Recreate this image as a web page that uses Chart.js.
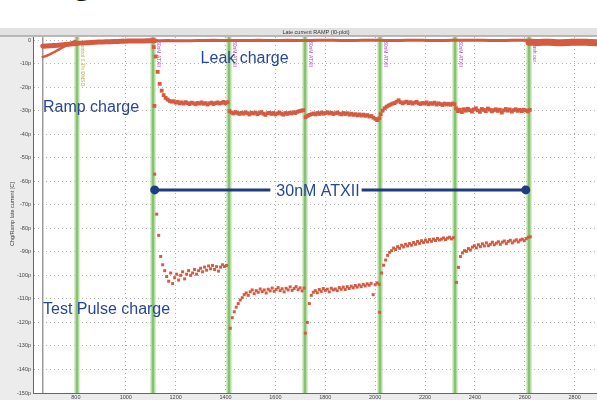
<!DOCTYPE html>
<html>
<head>
<meta charset="utf-8">
<script src="https://cdn.jsdelivr.net/npm/chart.js@4"></script>
<style>
  html, body { margin: 0; padding: 0; background: #fff; overflow: hidden; width: 597px; height: 400px; }
  #wrap { position: absolute; left: 0; top: 28px; }
  #cut { position: absolute; left: 71px; top: -37px; font: bold 36px "Liberation Sans", Arial, sans-serif; line-height: 36px; color: #111; }
</style>
</head>
<body>
<div id="cut">g</div>
<div id="wrap"><canvas id="myChart" width="640" height="372"></canvas></div>
<script>
// sample spacing in seconds for every recorded segment
const STEP = 8;

// axis ticks
const xTicks = [800, 1000, 1200, 1400, 1600, 1800, 2000, 2200, 2400, 2600, 2800, 3000];
const yTicks = [0, -10, -20, -30, -40, -50, -60, -70, -80, -90, -100, -110, -120, -130, -140, -150];

// leak charge (thick trace near zero)
const leakEarlyStart = 667, leakEarlyStep = 30;
const leakEarly = [-2.6, -2.4, -2.2, -1.9, -1.6, -1.3, -1.1, -0.9, -0.8, -0.7, -0.6, -0.5, -0.4, -0.4, -0.3, -0.3];
const leakBranchStart = 667, leakBranchStep = 12;
const leakBranch = [-7.2, -6.8, -6.3, -5.7, -5.0, -4.3, -3.6, -2.9, -2.2, -1.5, -0.9, -0.4];
const leakMidStart = 1110, leakMidStep = 60;
const leakMid = [-0.3, -0.2, -0.3, -0.2, -0.1, -0.2, -0.2, -0.1, -0.2, -0.1, -0.2, -0.1, -0.1, -0.2, -0.1, -0.1, -0.2, -0.1, -0.1, -0.2, -0.1, -0.1, -0.1, -0.2, -0.1, -0.1];
const leakLateStart = 2617, leakLateStep = 40;
const leakLate = [-0.9, -1.0, -0.9, -1.1, -1.0, -0.9, -1.0, -1.1, -0.9, -1.0, -1.0, -0.9];

// ramp charge
const rampStarts = [1112, 1416, 1721, 2022, 2324];
const rampSeg1 = [-3.0, -7.0, -13.5, -18.6, -21.5, -23.4, -24.6, -25.3, -25.9, -26.2, -26.0, -26.6, -26.3, -26.9, -26.5, -27.0, -26.4, -26.8, -27.2, -26.6, -26.9, -27.3, -26.7, -27.0, -26.5, -27.1, -26.8, -27.4, -26.9, -26.6, -27.2, -26.8, -26.5, -27.0, -26.7, -26.3, -26.9, -26.4];
const rampSeg2 = [-30.2, -30.8, -31.2, -30.6, -31.0, -31.4, -30.9, -31.3, -30.7, -31.1, -31.6, -30.9, -31.2, -30.8, -31.5, -31.0, -30.6, -31.3, -31.8, -31.1, -30.9, -31.4, -31.0, -31.6, -31.2, -30.8, -31.3, -31.7, -31.0, -31.4, -30.9, -31.2, -30.7, -31.0, -30.5, -30.2, -30.0, -29.8];
const rampSeg3 = [-32.8, -32.2, -31.8, -31.5, -31.2, -31.6, -31.0, -31.4, -30.8, -31.3, -31.0, -30.7, -31.2, -30.9, -31.4, -31.1, -30.8, -31.3, -31.6, -31.0, -31.4, -31.1, -31.7, -31.3, -31.8, -31.5, -32.0, -31.6, -32.1, -31.7, -32.2, -31.9, -32.5, -32.3, -33.0, -33.5, -34.0, -33.2];
const rampSeg4 = [-31.5, -30.0, -29.0, -28.3, -27.8, -27.4, -27.0, -26.8, -26.2, -25.6, -26.4, -26.9, -26.5, -26.2, -26.8, -26.4, -27.0, -26.6, -26.3, -26.9, -27.2, -26.7, -27.0, -26.5, -27.3, -26.8, -27.1, -26.6, -27.4, -26.9, -27.2, -27.6, -27.0, -27.4, -27.1, -27.5, -27.0, -27.3];
const rampSeg5 = [-29.0, -30.2, -29.6, -30.6, -29.4, -30.0, -29.2, -29.8, -30.4, -29.5, -29.0, -29.9, -30.5, -29.3, -29.7, -30.2, -29.1, -29.6, -30.3, -29.8, -29.4, -30.1, -29.6, -30.8, -29.9, -29.3, -30.0, -29.5, -30.4, -29.8, -29.4, -30.1, -29.7, -30.2, -29.6, -29.9, -30.3, -29.7];
const rampOutlierX = [1115];
const rampOutlierY = [-28.0];

// test pulse charge
const testStarts = [1116, 1419, 1720, 2018, 2326];
const testSeg1 = [-57, -74, -83, -92, -95.5, -98, -100.5, -102.5, -99, -103.5, -101, -99.5, -102, -100, -98.5, -101.5, -99.5, -98, -100, -99, -97.5, -99.5, -98, -97, -98.5, -96.5, -97.8, -96, -97.2, -95.8, -97.5, -96.3, -98.2, -96.5, -95.5, -96.2, -95.8];
const testSeg2 = [-122.5, -118, -115.5, -113.5, -112, -110.5, -109.5, -108.2, -107.5, -108.5, -107, -106.2, -107.8, -106.5, -107.2, -105.8, -106.9, -106.2, -107.5, -105.9, -106.6, -105.4, -106.8, -106, -105.2, -106.5, -105.7, -107, -105.5, -106.2, -104.9, -106.4, -105.6, -104.8, -106.1, -105.3, -106.6, -105.4];
const testSeg3 = [-124.6, -120, -112, -108.5, -107.2, -106.5, -107.4, -106, -106.8, -105.6, -106.4, -105.9, -107, -105.5, -106.2, -105.8, -106.5, -105.2, -105.9, -105, -106, -104.8, -105.6, -104.6, -105.3, -104.3, -105, -104.1, -104.8, -103.8, -104.5, -103.6, -104.2, -103.4, -108.2, -104, -103.2, -103.8];
const testSeg4 = [-115.7, -99, -95.7, -93.5, -91.5, -90.2, -89.5, -88.4, -89, -87.8, -88.5, -87.2, -87.9, -86.8, -87.5, -86.5, -87.2, -86, -86.8, -85.6, -86.4, -85.3, -86, -85, -85.8, -84.8, -85.5, -84.6, -85.2, -84.3, -85, -84.6, -84.1, -84.8, -84.2, -83.8, -84.5, -84];
const testSeg5 = [-103, -96.6, -92, -90.5, -89.5, -89.8, -88.6, -89.2, -88, -87.4, -88.3, -87, -87.8, -86.6, -87.5, -86.2, -87.4, -86.8, -85.9, -87, -86.3, -85.7, -86.8, -85.9, -85.4, -86.5, -85.6, -85.1, -86.2, -85.4, -84.9, -85.8, -85, -84.6, -85.3, -84.4, -83.8, -83.6];

// event markers (green) and their labels
const markerTimes = [805, 1110, 1412, 1717, 2018, 2320, 2617];
const markerLabels = ["Control 0.1% DMSO", "30nM ATXII", "30nM ATXII", "30nM ATXII", "30nM ATXII", "30nM ATXII", "Wash out"];
const startTime = 667;

// treatment bar
const atxLabel = "30nM ATXII";
const atxFrom = 1116, atxTo = 2604, atxLevel = -63.7;

// series names written on the plot
const seriesNotes = [
  { text: "Leak charge", x: 1300, y: -9.8 },
  { text: "Ramp charge", x: 668, y: -30.6 },
  { text: "Test Pulse charge", x: 668, y: -116.4 }
];

const titleText = "Late current RAMP (I0-plot)";
const yTitle = "Chg/Ramp late current [C]";

const RED = "#d65a3f";
const NAVY = "#27479a";
const FONT = '"Liberation Sans", Arial, sans-serif';

function toPoints(start, step, values) {
  return values.map((v, i) => ({ x: start + i * step, y: v }));
}

let rampData = [];
[rampSeg1, rampSeg2, rampSeg3, rampSeg4, rampSeg5].forEach((seg, k) => {
  rampData = rampData.concat(toPoints(rampStarts[k], STEP, seg));
});
rampOutlierX.forEach((x, i) => rampData.push({ x: x, y: rampOutlierY[i] }));

let testData = [];
[testSeg1, testSeg2, testSeg3, testSeg4, testSeg5].forEach((seg, k) => {
  testData = testData.concat(toPoints(testStarts[k], STEP, seg));
});

const leakLine = (data, w) => ({
  data: data, showLine: true, borderColor: RED, borderWidth: w,
  pointRadius: 0, tension: 0.2, borderCapStyle: "round"
});

const decor = {
  id: "decor",
  beforeDraw(chart) {
    const { ctx, chartArea: a, width } = chart;
    ctx.save();
    ctx.fillStyle = "#ececec";
    ctx.fillRect(0, 0, width, chart.height);
    ctx.fillStyle = "#e2e2e2";
    ctx.fillRect(0, 0, width, a.top - 1);
    ctx.fillStyle = "#fff";
    ctx.fillRect(a.left, a.top, a.right - a.left, a.bottom - a.top);
    ctx.restore();
  },
  beforeDatasetsDraw(chart) {
    const { ctx, chartArea: a, scales: { x } } = chart;
    ctx.save();
    // start line
    const sx = x.getPixelForValue(startTime);
    ctx.strokeStyle = "#9a9a9a";
    ctx.lineWidth = 1.5;
    ctx.beginPath(); ctx.moveTo(sx, a.top); ctx.lineTo(sx, a.bottom); ctx.stroke();
    markerTimes.forEach((t, i) => {
      const px = Math.round(x.getPixelForValue(t));
      ctx.fillStyle = "#b3dd9c";
      ctx.fillRect(px - 2.5, a.top, 5, a.bottom - a.top);
      ctx.fillStyle = "#5da650";
      ctx.fillRect(px - 0.5, a.top, 1, a.bottom - a.top);
      ctx.save();
      ctx.translate(px + 3, a.top + 4);
      ctx.rotate(Math.PI / 2);
      ctx.font = "5px " + FONT;
      ctx.fillStyle = i === 0 ? "#b8a84a" : "#b048c0";
      ctx.textBaseline = "bottom";
      ctx.fillText(markerLabels[i], 0, 0);
      ctx.restore();
    });
    ctx.restore();
  },
  afterDatasetsDraw(chart) {
    const { ctx, chartArea: a, scales: { x, y } } = chart;
    ctx.save();
    // header
    ctx.fillStyle = "#888";
    ctx.fillRect(0, a.top - 1.5, chart.width, 1);
    ctx.fillStyle = "#333";
    ctx.font = "5.5px " + FONT;
    ctx.textAlign = "center";
    ctx.textBaseline = "middle";
    ctx.fillText(titleText, 316, 4.5);
    // axis line
    ctx.fillStyle = "#666";
    ctx.fillRect(a.left - 1, a.top, 1, a.bottom - a.top);
    ctx.fillRect(a.left - 1, a.bottom, chart.width, 1);
    // y title
    ctx.save();
    ctx.translate(12, y.getPixelForValue(-74));
    ctx.rotate(-Math.PI / 2);
    ctx.fillStyle = "#444";
    ctx.font = "5.5px " + FONT;
    ctx.fillText(yTitle, 0, 0);
    ctx.restore();
    // treatment bar
    const x1 = x.getPixelForValue(atxFrom), x2 = x.getPixelForValue(atxTo);
    const ly = y.getPixelForValue(atxLevel);
    ctx.font = "16px " + FONT;
    const tw = ctx.measureText(atxLabel).width;
    const cx = 318;
    ctx.strokeStyle = "#1f3c80";
    ctx.lineWidth = 3;
    ctx.beginPath();
    ctx.moveTo(x1, ly); ctx.lineTo(cx - tw / 2 - 6, ly);
    ctx.moveTo(cx + tw / 2 + 2, ly); ctx.lineTo(x2, ly);
    ctx.stroke();
    ctx.fillStyle = "#1f3c80";
    [x1, x2].forEach(px => { ctx.beginPath(); ctx.arc(px, ly, 4.5, 0, Math.PI * 2); ctx.fill(); });
    ctx.fillStyle = NAVY;
    ctx.textAlign = "center";
    ctx.textBaseline = "alphabetic";
    ctx.fillText(atxLabel, cx, ly + 6);
    // series notes
    ctx.textAlign = "left";
    seriesNotes.forEach(n => {
      ctx.fillText(n.text, x.getPixelForValue(n.x), y.getPixelForValue(n.y));
    });
    ctx.restore();
  }
};

new Chart("myChart", {
  type: "scatter",
  data: {
    datasets: [
      leakLine(toPoints(leakEarlyStart, leakEarlyStep, leakEarly), 5),
      leakLine(toPoints(leakBranchStart, leakBranchStep, leakBranch), 2.5),
      leakLine(toPoints(leakMidStart, leakMidStep, leakMid), 3),
      leakLine(toPoints(leakLateStart, leakLateStep, leakLate), 7),
      {
        data: rampData, backgroundColor: RED, borderWidth: 0,
        pointStyle: "rect", pointRadius: 2.7
      },
      {
        data: testData, backgroundColor: RED, borderWidth: 0,
        pointStyle: "rect", pointRadius: 2.1
      }
    ]
  },
  options: {
    responsive: false,
    animation: false,
    events: [],
    layout: { padding: { top: 9, left: 0, right: 0, bottom: 0 } },
    plugins: { legend: { display: false }, tooltip: { enabled: false } },
    scales: {
      x: {
        type: "linear", min: 632, max: 3046,
        afterFit: s => { s.height = 7; s.paddingLeft = 0; s.paddingRight = 0; },
        afterBuildTicks: s => { s.ticks = xTicks.map(v => ({ value: v })); },
        ticks: {
          padding: 1, autoSkip: false,
          font: { size: 5.5, family: FONT }, color: "#444", maxRotation: 0,
          callback: v => String(v)
        },
        grid: { color: "#b0b0b0", lineWidth: 1, drawTicks: false },
        border: { display: false, dash: [1, 3] }
      },
      y: {
        type: "linear", min: -150, max: 1.3,
        afterFit: s => { s.width = 34; },
        afterBuildTicks: s => { s.ticks = yTicks.map(v => ({ value: v })); },
        ticks: {
          padding: 3, autoSkip: false,
          font: { size: 5.5, family: FONT }, color: "#444",
          callback: v => v === 0 ? "0" : v + "p"
        },
        grid: { color: "#b0b0b0", lineWidth: 1, drawTicks: false },
        border: { display: false, dash: [1, 3] }
      }
    }
  },
  plugins: [decor]
});
</script>
</body>
</html>
